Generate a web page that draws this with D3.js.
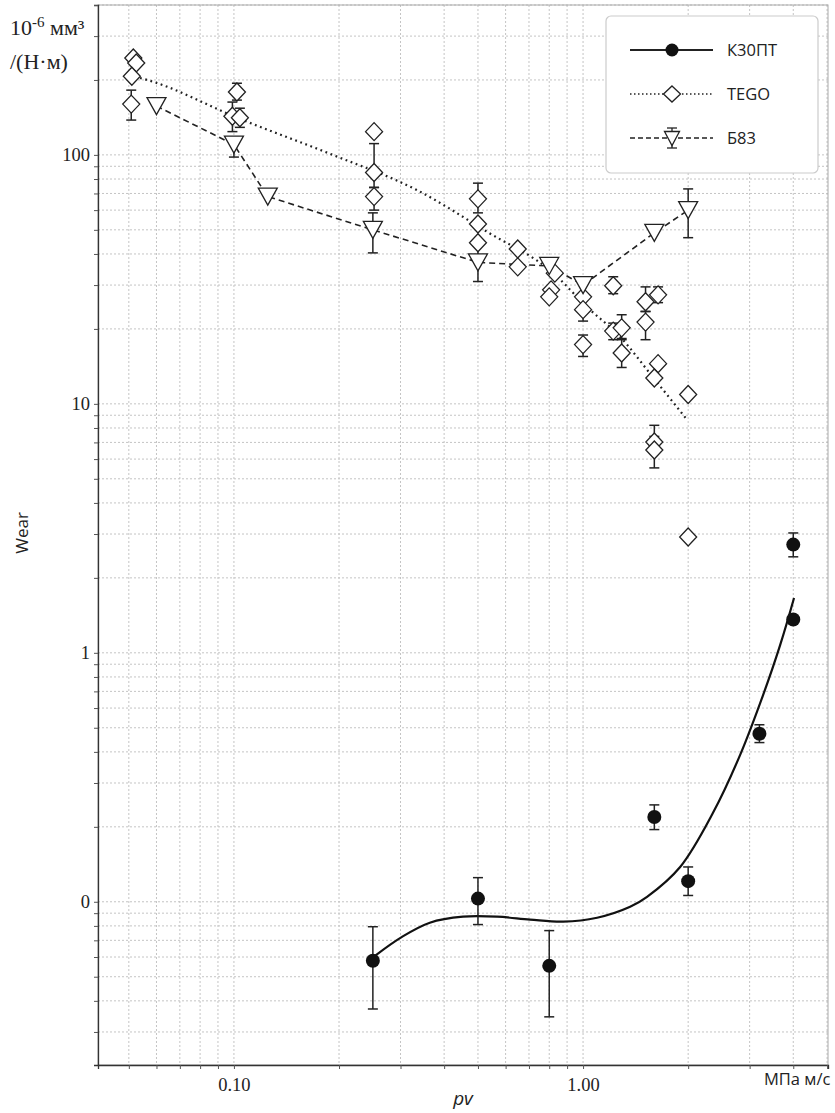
<!DOCTYPE html>
<html>
<head>
<meta charset="utf-8">
<script src="https://cdn.jsdelivr.net/npm/d3@7"></script>
<style>
  body { margin: 0; background: #fff; }
</style>
</head>
<body>
<div id="chart"></div>
<script>
// ---- data ----
// К30ПТ (black circles)
const k30X  = [0.25, 0.5, 0.8, 1.6, 2.0, 3.2, 4.0, 4.0];
const k30Y  = [0.058, 0.103, 0.0553, 0.219, 0.121, 0.473, 1.36, 2.72];
const k30Lo = [0.0371, 0.081, 0.0345, 0.195, 0.106, 0.436, null, 2.43];
const k30Hi = [0.0794, 0.125, 0.0766, 0.245, 0.138, 0.514, null, 3.03];
// К30ПТ trend curve
const k30FitX = [0.2535, 0.303, 0.364, 0.453, 0.567, 0.705, 0.877, 1.097, 1.364, 1.525, 1.897, 2.356, 2.82, 3.28, 3.67, 4.02];
const k30FitY = [0.0607, 0.0723, 0.0824, 0.0871, 0.0871, 0.0848, 0.0832, 0.0863, 0.0955, 0.1047, 0.138, 0.2277, 0.39, 0.678, 1.076, 1.66];

// TEGO (open diamonds)
const tegoX  = [0.0515, 0.0525, 0.051, 0.0508, 0.102, 0.099, 0.104, 0.252, 0.252, 0.252, 0.5, 0.5, 0.5, 0.65, 0.65,
                0.83, 0.81, 0.8, 1.0, 1.0, 1.0, 1.22, 1.22, 1.29, 1.29, 1.51, 1.51, 1.64, 1.64, 1.6, 1.6, 1.6, 2.0, 2.0];
const tegoY  = [245, 234, 207, 160, 179, 143, 141, 124, 85, 68, 66.6, 52.8, 44.4, 41.9, 35.5,
                33.5, 28.7, 26.9, 26.9, 23.9, 17.3, 29.8, 19.6, 20.2, 16.0, 25.7, 21.3, 27.4, 14.5, 12.7, 7.03, 6.53, 10.9, 2.92];
const tegoLo = [null, null, null, 138, 166, 124, 129, null, 74, 60, 58.5, null, null, null, null,
                null, null, null, null, 21.5, 15.5, 27.7, 18.1, 18.3, 14.0, 23.5, 18.1, 25.5, null, null, 6.4, 5.53, null, null];
const tegoHi = [null, null, null, 182, 194, 163, 154, null, 111, 74, 77, null, null, null, null,
                null, null, null, null, 26.0, 18.9, 32.4, 21.1, 22.8, 18.1, 29.5, 23.5, 29.5, null, null, 8.2, 7.4, null, null];
// TEGO trend curve
const tegoFitX = [0.052, 0.055, 0.106, 0.192, 0.334, 0.531, 0.82, 1.026, 1.276, 1.585, 1.99];
const tegoFitY = [206, 202, 138, 100, 72.3, 49.1, 33.6, 24.5, 18.6, 12.8, 8.6];

// Б83 (open down-triangles)
const b83X  = [0.06, 0.1, 0.125, 0.25, 0.5, 0.8, 1.0, 1.6, 2.0];
const b83Y  = [157, 110, 68, 50, 37, 35.8, 30, 48.6, 60];
const b83Lo = [null, 98, null, 40.4, 31, null, null, null, 46.5];
const b83Hi = [null, 118, null, 58.5, 43, null, null, null, 73];

// axis ticks
const xTickVals = [0.1, 1];
const xTickLabels = ["0.10", "1.00"];
const yTickVals = [0.1, 1, 10, 100];
const yTickLabels = ["0", "1", "10", "100"];

// ---- layout ----
const W = 835, H = 1113;
const margin = {top: 5, right: 7, bottom: 48, left: 98};

const svg = d3.select("#chart").append("svg")
    .attr("width", W)
    .attr("height", H)
    .style("font-family", "'Liberation Serif', serif");

const x = d3.scaleLog().domain([0.0408, 5.03]).range([margin.left, W - margin.right]);
const y = d3.scaleLog().domain([0.0221, 400]).range([H - margin.bottom, margin.top]);

// grid (major + minor)
const grid = svg.append("g").attr("stroke", "#c4c4c4").attr("stroke-width", 1).attr("stroke-dasharray", "2,2");
grid.selectAll(".gx").data(x.ticks()).enter().append("line")
    .attr("x1", d => x(d)).attr("x2", d => x(d))
    .attr("y1", margin.top).attr("y2", H - margin.bottom);
grid.selectAll(".gy").data(y.ticks()).enter().append("line")
    .attr("x1", margin.left).attr("x2", W - margin.right)
    .attr("y1", d => y(d)).attr("y2", d => y(d));

// frame top/right
svg.append("rect")
    .attr("x", margin.left).attr("y", margin.top)
    .attr("width", W - margin.left - margin.right)
    .attr("height", H - margin.top - margin.bottom)
    .attr("fill", "none").attr("stroke", "#aaa");

// axes
const yAxis = d3.axisLeft(y).tickValues(y.ticks()).tickSize(4)
    .tickFormat(d => { const i = yTickVals.findIndex(v => Math.abs(v - d) < 1e-9); return i >= 0 ? yTickLabels[i] : ""; });
const gy = svg.append("g").attr("transform", `translate(${margin.left},0)`).call(yAxis);
gy.select(".domain").attr("stroke", "#333").attr("stroke-width", 1.3);
gy.selectAll(".tick line").attr("stroke", "#555");
gy.selectAll("text").attr("font-size", 18.5).attr("fill", "#222").attr("x", -8)
    .style("font-family", "'Liberation Serif', serif");

const xAxis = d3.axisBottom(x).tickValues(x.ticks()).tickSize(4)
    .tickFormat(d => { const i = xTickVals.findIndex(v => Math.abs(v - d) < 1e-9); return i >= 0 ? xTickLabels[i] : ""; });
const gx = svg.append("g").attr("transform", `translate(0,${H - margin.bottom})`).call(xAxis);
gx.select(".domain").attr("stroke", "#333").attr("stroke-width", 1.3);
gx.selectAll(".tick line").attr("stroke", "#555");
gx.selectAll("text").attr("font-size", 18.5).attr("fill", "#222").attr("dy", "1.0em")
    .style("font-family", "'Liberation Serif', serif");

// axis titles
svg.append("text").attr("x", (margin.left + W - margin.right) / 2).attr("y", 1105)
    .attr("text-anchor", "middle").attr("font-size", 19).attr("font-style", "italic")
    .style("font-family", "'Open Sans', sans-serif").attr("fill", "#222").text("pv");
svg.append("text").attr("x", 764).attr("y", 1085)
    .attr("font-size", 16.5).style("font-family", "'Open Sans', sans-serif").attr("fill", "#222").text("МПа м/с");
svg.append("text").attr("transform", "translate(28,533) rotate(-90)")
    .attr("text-anchor", "middle").attr("font-size", 17)
    .style("font-family", "'Open Sans', sans-serif").attr("fill", "#222").text("Wear");

const unit1 = svg.append("text").attr("x", 10).attr("y", 35).attr("font-size", 22).attr("fill", "#222");
unit1.append("tspan").text("10");
unit1.append("tspan").attr("dy", -8).attr("font-size", 15).text("-6");
unit1.append("tspan").attr("dy", 8).text(" мм³");
svg.append("text").attr("x", 10).attr("y", 69).attr("font-size", 22).attr("fill", "#222").text("/(Н·м)");

// ---- lines ----
const line = d3.line().x(d => x(d[0])).y(d => y(d[1]));

svg.append("path")
    .datum(tegoFitX.map((v, i) => [v, tegoFitY[i]]))
    .attr("d", line.curve(d3.curveMonotoneX))
    .attr("fill", "none").attr("stroke", "#222").attr("stroke-width", 2.2)
    .attr("stroke-dasharray", "1.8,3.6");

svg.append("path")
    .datum(b83X.map((v, i) => [v, b83Y[i]]))
    .attr("d", line.curve(d3.curveLinear))
    .attr("fill", "none").attr("stroke", "#222").attr("stroke-width", 1.6)
    .attr("stroke-dasharray", "6,4");

svg.append("path")
    .datum(k30FitX.map((v, i) => [v, k30FitY[i]]))
    .attr("d", line.curve(d3.curveCatmullRom.alpha(0.5)))
    .attr("fill", "none").attr("stroke", "#111").attr("stroke-width", 2.2);

// ---- error bars + markers ----
const diamond = "M0,-9L8.5,0L0,9L-8.5,0Z";
const triDown = "M-9.5,-8.5L9.5,-8.5L0,8.5Z";

function errorBars(xs, ys, lo, hi) {
    const g = svg.append("g").attr("stroke", "#222").attr("stroke-width", 1.5);
    xs.forEach((xv, i) => {
        if (lo[i] == null) return;
        const cx = x(xv);
        g.append("line").attr("x1", cx).attr("x2", cx).attr("y1", y(lo[i])).attr("y2", y(hi[i]));
        g.append("line").attr("x1", cx - 5).attr("x2", cx + 5).attr("y1", y(lo[i])).attr("y2", y(lo[i]));
        g.append("line").attr("x1", cx - 5).attr("x2", cx + 5).attr("y1", y(hi[i])).attr("y2", y(hi[i]));
    });
}

errorBars(tegoX, tegoY, tegoLo, tegoHi);
errorBars(b83X, b83Y, b83Lo, b83Hi);
errorBars(k30X, k30Y, k30Lo, k30Hi);

svg.append("g").selectAll("path")
    .data(tegoX.map((v, i) => [v, tegoY[i]]))
    .enter().append("path")
    .attr("d", diamond)
    .attr("transform", d => `translate(${x(d[0])},${y(d[1])})`)
    .attr("fill", "#fff").attr("stroke", "#222").attr("stroke-width", 1.3);

svg.append("g").selectAll("path")
    .data(b83X.map((v, i) => [v, b83Y[i]]))
    .enter().append("path")
    .attr("d", triDown)
    .attr("transform", d => `translate(${x(d[0])},${y(d[1])})`)
    .attr("fill", "#fff").attr("stroke", "#222").attr("stroke-width", 1.3);

svg.append("g").selectAll("circle")
    .data(k30X.map((v, i) => [v, k30Y[i]]))
    .enter().append("circle")
    .attr("cx", d => x(d[0])).attr("cy", d => y(d[1])).attr("r", 7)
    .attr("fill", "#111");

// ---- legend ----
const leg = svg.append("g");
leg.append("rect").attr("x", 606).attr("y", 16).attr("width", 212).attr("height", 157).attr("rx", 5)
    .attr("fill", "#fff").attr("stroke", "#ccc").attr("stroke-width", 1.2);

const legItems = [
    {name: "К30ПТ", yy: 50, dash: null, w: 1.8},
    {name: "TEGO", yy: 94, dash: "1.5,2.5", w: 1.4},
    {name: "Б83", yy: 138, dash: "5,3", w: 1.5}
];
legItems.forEach((it, i) => {
    const l = leg.append("line").attr("x1", 630).attr("x2", 713).attr("y1", it.yy).attr("y2", it.yy)
        .attr("stroke", "#222").attr("stroke-width", it.w);
    if (it.dash) l.attr("stroke-dasharray", it.dash);
    if (i === 0) {
        leg.append("circle").attr("cx", 672).attr("cy", it.yy).attr("r", 6.5).attr("fill", "#111");
    } else if (i === 1) {
        leg.append("path").attr("d", "M0,-8L8.5,0L0,8L-8.5,0Z").attr("transform", `translate(672,${it.yy})`)
            .attr("fill", "#fff").attr("stroke", "#222").attr("stroke-width", 1.3);
    } else {
        leg.append("line").attr("x1", 672).attr("x2", 672).attr("y1", it.yy - 10).attr("y2", it.yy + 10)
            .attr("stroke", "#222").attr("stroke-width", 1.3);
        leg.append("line").attr("x1", 667).attr("x2", 677).attr("y1", it.yy - 10).attr("y2", it.yy - 10)
            .attr("stroke", "#222").attr("stroke-width", 1.3);
        leg.append("line").attr("x1", 667).attr("x2", 677).attr("y1", it.yy + 10).attr("y2", it.yy + 10)
            .attr("stroke", "#222").attr("stroke-width", 1.3);
        leg.append("path").attr("d", "M-7.5,-6.5L7.5,-6.5L0,7.5Z").attr("transform", `translate(672,${it.yy})`)
            .attr("fill", "#fff").attr("stroke", "#222").attr("stroke-width", 1.3);
    }
    leg.append("text").attr("x", 727).attr("y", it.yy + 6).attr("font-size", 16.5)
        .style("font-family", "'Open Sans', sans-serif").attr("fill", "#222").text(it.name);
});
</script>
</body>
</html>
